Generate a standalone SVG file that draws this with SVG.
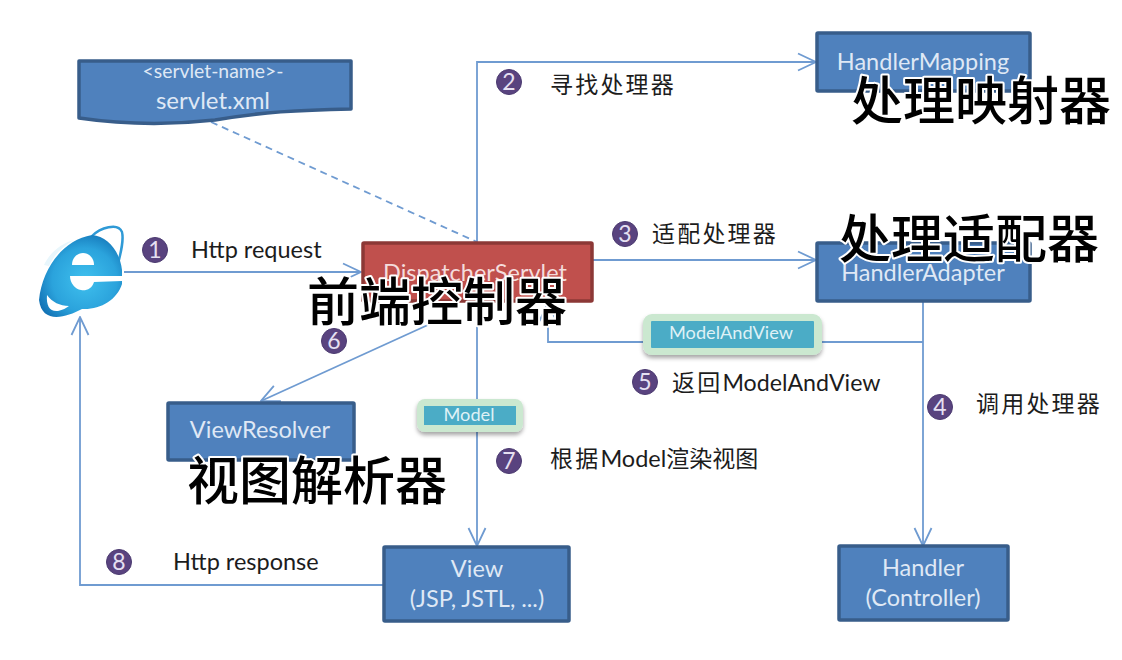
<svg xmlns="http://www.w3.org/2000/svg" width="1122" height="660" viewBox="0 0 1122 660">
<style>
text{font-family:"Lato","Noto Sans CJK SC",sans-serif}
.box rect,.box path{fill:#4f81bd;stroke:#385d8a;stroke-width:3.5}
.box text{fill:#dfe8f5;font-size:23.5px;text-anchor:middle}
.ln{fill:none;stroke:#6f9bd1;stroke-width:1.8}
.lb{fill:#1c1c1c;font-size:23.5px}
.cjk{font-family:"Noto Sans CJK SC",sans-serif;font-size:23px;letter-spacing:2.2px}
.big{font-family:"Noto Sans CJK SC",sans-serif;font-weight:500;font-size:52px;fill:#000;stroke:#fff;stroke-width:4;paint-order:stroke;stroke-linejoin:round}
.num circle{fill:#59437f;stroke:#4b3a70;stroke-width:1}
.num text{fill:#e6e0f2;font-size:23px;text-anchor:middle}
.tag{fill:#cbe8d0;filter:url(#sh)}
.tagin{fill:#4bacc6}
.tagt{fill:#dff1f6;font-size:18.2px;text-anchor:middle}
</style>
<defs>
<marker id="a" viewBox="0 0 20 20" refX="19" refY="10" markerWidth="20" markerHeight="20" markerUnits="userSpaceOnUse" orient="auto"><path d="M1 1.5 19 10 1 18.5" fill="none" stroke="#6f9bd1" stroke-width="1.8"/></marker>
<filter id="sh" x="-10%" y="-20%" width="120%" height="150%"><feDropShadow dx="0" dy="3" stdDeviation="2" flood-color="#000" flood-opacity=".35"/></filter>
<radialGradient id="ie" cx="0.55" cy="0.55" r="0.65"><stop offset="0" stop-color="#3fc0ee"/><stop offset="0.6" stop-color="#2ba3dc"/><stop offset="1" stop-color="#0f6cb0"/></radialGradient>
</defs>

<g id="connectors">
<path class="ln" d="M124 272H361" marker-end="url(#a)"/>
<path class="ln" d="M477 242V62H816" marker-end="url(#a)"/>
<path class="ln" d="M593 260H816" marker-end="url(#a)"/>
<path class="ln" d="M923 302V546" marker-end="url(#a)"/>
<path class="ln" d="M923 342H548V303" marker-end="url(#a)"/>
<path class="ln" d="M430 324 261 401" marker-end="url(#a)"/>
<path class="ln" d="M477 302V546" marker-end="url(#a)"/>
<path class="ln" d="M383 585H80V317" marker-end="url(#a)"/>
<path class="ln" d="M211 122 477 242" stroke-dasharray="7 5"/>
</g>

<g id="browser">
<path d="M92 236C100 228 118 222 122 232 124 240 121 252 118 264" fill="none" stroke="#2f9ad6" stroke-width="2.4"/>
<path d="M39 300C42 270 62 240 92 235 108 236 120 252 122 270V284C117 300 100 310 82 309 65 318 42 324 39 300Z" fill="url(#ie)"/>
<path d="M44 265C50 252 62 243 74 240 62 247 54 255 49 266Z" fill="#e8f6fc"/>
<path d="M47 295C46 306 50 312 58 311 63 310 66 308 69 306 60 306 52 302 47 295Z" fill="#fff"/>
<path d="M72 265C72 257 78 253 83 253 89 253 94 258 94 265Z" fill="#fff"/>
<path d="M70 276H122V281L94 282C92 289 86 291 81 290 75 289 70 283 70 276Z" fill="#fff"/>
</g>

<g id="servlet-xml" class="box">
<path d="M79 61H351V109C300 110 260 112 215 120 170 125 120 124 79 118Z" stroke-linejoin="round"/>
<text x="213" y="78" style="font-size:19.4px">&lt;servlet-name&gt;-</text>
<text x="213" y="109" style="font-size:24px">servlet.xml</text>
</g>
<g id="handler-mapping" class="box">
<rect x="817" y="33" width="213" height="58" rx="1"/>
<text x="923" y="70">HandlerMapping</text>
</g>
<g id="dispatcher-servlet" class="box">
<rect x="363" y="243" width="229" height="58" rx="1" style="fill:#c0504d;stroke:#8c3836"/>
<text x="475" y="281" style="fill:#f4dcdc">DispatcherServlet</text>
</g>
<g id="handler-adapter" class="box">
<rect x="817" y="243" width="213" height="58" rx="1"/>
<text x="923" y="281">HandlerAdapter</text>
</g>
<g id="view-resolver" class="box">
<rect x="168" y="403" width="186" height="57" rx="1"/>
<text x="260" y="438">ViewResolver</text>
</g>
<g id="view" class="box">
<rect x="384" y="547" width="185" height="74" rx="1"/>
<text x="477" y="577">View</text>
<text x="477" y="607">(JSP, JSTL, ...)</text>
</g>
<g id="handler" class="box">
<rect x="839" y="546" width="169" height="74" rx="1"/>
<text x="923" y="576">Handler</text>
<text x="923" y="606">(Controller)</text>
</g>

<g id="model-tag">
<rect class="tag" x="417" y="399" width="106" height="33" rx="8"/>
<rect class="tagin" x="424" y="406" width="92" height="19"/>
<text class="tagt" x="469" y="421">Model</text>
</g>
<g id="model-and-view-tag">
<rect class="tag" x="643" y="314" width="179" height="41" rx="9"/>
<rect class="tagin" x="651" y="321" width="163" height="27" rx="1"/>
<text class="tagt" x="731" y="339">ModelAndView</text>
</g>

<g id="numbers">
<g class="num"><circle cx="155" cy="250" r="12.5"/><text x="155" y="258">1</text></g>
<g class="num"><circle cx="509" cy="82" r="12.5"/><text x="509" y="90">2</text></g>
<g class="num"><circle cx="625" cy="234" r="12.5"/><text x="625" y="242">3</text></g>
<g class="num"><circle cx="940" cy="407" r="12.5"/><text x="940" y="415">4</text></g>
<g class="num"><circle cx="645" cy="382" r="12.5"/><text x="645" y="390">5</text></g>
<g class="num"><circle cx="334" cy="341" r="12.5"/><text x="334" y="349">6</text></g>
<g class="num"><circle cx="509" cy="461" r="12.5"/><text x="509" y="469">7</text></g>
<g class="num"><circle cx="119" cy="562" r="12.5"/><text x="119" y="570">8</text></g>
</g>

<g id="labels">
<text class="lb" x="191" y="258">Http request</text>
<text class="lb cjk" x="550" y="93">寻找处理器</text>
<text class="lb cjk" x="652" y="242">适配处理器</text>
<text class="lb cjk" x="976" y="412">调用处理器</text>
<text class="lb" x="672" y="391" style="font-size:23.2px"><tspan class="cjk">返回</tspan>ModelAndView</text>
<text class="lb" x="550" y="467"><tspan class="cjk">根据</tspan>Model<tspan class="cjk" style="letter-spacing:0">渲染视图</tspan></text>
<text class="lb" x="173" y="570">Http response</text>
</g>

<g id="overlays">
<text class="big" x="851" y="120">处理映射器</text>
<text class="big" x="839" y="258">处理适配器</text>
<text class="big" x="307" y="321">前端控制器</text>
<text class="big" x="187" y="500">视图解析器</text>
</g>
</svg>
